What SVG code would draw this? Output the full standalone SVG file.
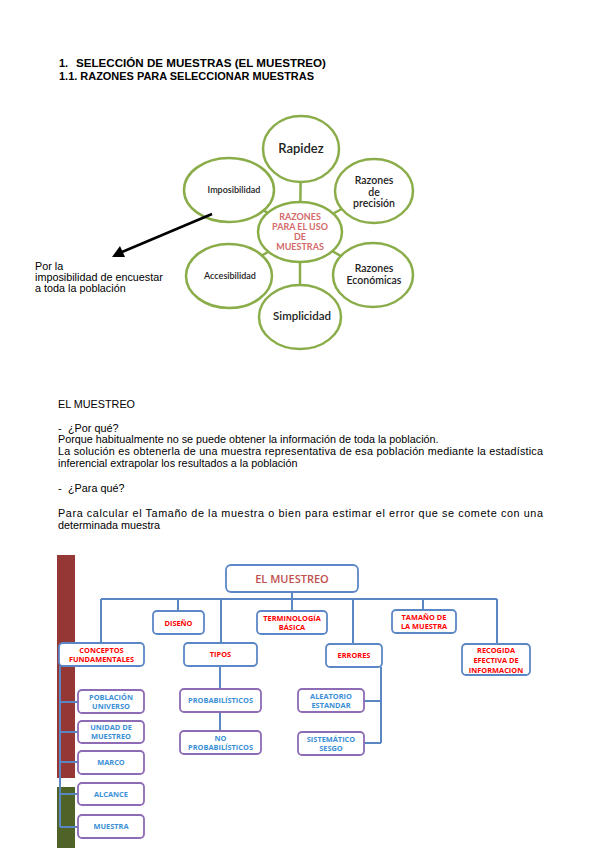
<svg xmlns="http://www.w3.org/2000/svg" width="599" height="848" viewBox="0 0 599 848">
<style>
.hdr{font-family:"Liberation Sans",Arial,sans-serif;font-size:11px;font-weight:bold;fill:#000}
.body{font-family:"Liberation Sans",Arial,sans-serif;font-size:10.8px;fill:#000}
.circ{fill:#fff;stroke:#8aad4a;stroke-width:2.5}
.rl{stroke:#8aad4a;stroke-width:2.5}
.ct{font-family:Lato,"Open Sans",sans-serif;fill:#222;text-anchor:middle;font-weight:600}
.cc{font-family:Lato,"Open Sans",sans-serif;fill:#d46a6a;text-anchor:middle;font-weight:bold;font-size:9px}
.bx{fill:#fff;stroke:#5b87c6;stroke-width:1.8}
.bc{fill:#fff;stroke:#8e6bb5;stroke-width:1.8}
.tr{font-family:"Open Sans","DejaVu Sans",sans-serif;font-weight:bold;font-size:7.4px;fill:#ff0000;text-anchor:middle}
.tb{font-family:"Open Sans","DejaVu Sans",sans-serif;font-weight:bold;font-size:7.4px;fill:#3a8fd6;text-anchor:middle}
.cn{stroke:#5a86c4;stroke-width:2;fill:none}
</style>
<rect width="599" height="848" fill="#fff"/>

<g id="header">
<text class="hdr" x="59" y="67">1.</text>
<text class="hdr" x="76" y="67" textLength="250" lengthAdjust="spacingAndGlyphs">SELECCIÓN DE MUESTRAS (EL MUESTREO)</text>
<text class="hdr" x="59" y="80" textLength="255" lengthAdjust="spacingAndGlyphs">1.1. RAZONES PARA SELECCIONAR MUESTRAS</text>
</g>

<g id="radial-connectors">
<line class="rl" x1="301" y1="149" x2="300" y2="232"/>
<line class="rl" x1="300" y1="232" x2="300" y2="317"/>
<line class="rl" x1="229" y1="190" x2="300" y2="232"/>
<line class="rl" x1="374" y1="191" x2="300" y2="232"/>
<line class="rl" x1="229" y1="276" x2="300" y2="232"/>
<line class="rl" x1="373" y1="275" x2="300" y2="232"/>
</g>

<g id="rapidez"><ellipse class="circ" cx="301" cy="149" rx="38" ry="33"/><text class="ct" x="301" y="153" font-size="13">Rapidez</text></g>
<g id="imposibilidad"><ellipse class="circ" cx="229" cy="190" rx="45" ry="32"/><text class="ct" x="234" y="193" font-size="9" font-weight="bold">Imposibilidad</text></g>
<g id="precision"><ellipse class="circ" cx="374" cy="191" rx="39" ry="32"/><text class="ct" x="374" y="184" font-size="10.5">Razones</text><text class="ct" x="374" y="195.5" font-size="10.5">de</text><text class="ct" x="374" y="207" font-size="10.5">precisión</text></g>
<g id="centro"><ellipse class="circ" cx="300" cy="232" rx="42" ry="30"/><text class="cc" x="300" y="220">RAZONES</text><text class="cc" x="300" y="230">PARA EL USO</text><text class="cc" x="300" y="240">DE</text><text class="cc" x="300" y="250">MUESTRAS</text></g>
<g id="accesibilidad"><ellipse class="circ" cx="229" cy="276" rx="43" ry="32"/><text class="ct" x="230" y="279" font-size="9" font-weight="bold">Accesibilidad</text></g>
<g id="economicas"><ellipse class="circ" cx="373" cy="275" rx="40" ry="32"/><text class="ct" x="374" y="272" font-size="10.5">Razones</text><text class="ct" x="374" y="284" font-size="10.5">Económicas</text></g>
<g id="simplicidad"><ellipse class="circ" cx="300" cy="317" rx="41" ry="32"/><text class="ct" x="302" y="320" font-size="11.5">Simplicidad</text></g>

<g id="arrow">
<line x1="212" y1="214" x2="122" y2="252" stroke="#000" stroke-width="2.5"/>
<polygon points="112,257 120,246 125,257" fill="#000"/>
</g>
<g id="nota">
<text class="body" x="35" y="270">Por la</text>
<text class="body" x="35" y="281">imposibilidad de encuestar</text>
<text class="body" x="35" y="292">a toda la población</text>
</g>

<g id="texto">
<text class="body" x="58" y="408">EL MUESTREO</text>
<text class="body" x="58" y="432">-</text><text class="body" x="68" y="432">¿Por qué?</text>
<text class="body" x="58" y="443">Porque habitualmente no se puede obtener la información de toda la población.</text>
<text class="body" x="58" y="455" textLength="485" lengthAdjust="spacing">La solución es obtenerla de una muestra representativa de esa población mediante la estadística</text>
<text class="body" x="58" y="467">inferencial extrapolar los resultados a la población</text>
<text class="body" x="58" y="492">-</text><text class="body" x="68" y="492">¿Para qué?</text>
<text class="body" x="58" y="517" textLength="485" lengthAdjust="spacing">Para calcular el Tamaño de la muestra o bien para estimar el error que se comete con una</text>
<text class="body" x="58" y="529">determinada muestra</text>
</g>

<g id="bars">
<rect x="57" y="555" width="18" height="223" fill="#953735"/>
<rect x="57" y="787" width="18" height="61" fill="#4f6228"/>
</g>

<g id="connectors">
<line class="cn" x1="101" y1="599" x2="497" y2="599"/>
<line class="cn" x1="292" y1="592" x2="292" y2="611"/>
<line class="cn" x1="178" y1="599" x2="178" y2="611"/>
<line class="cn" x1="423" y1="599" x2="423" y2="610"/>
<line class="cn" x1="101" y1="599" x2="101" y2="643"/>
<line class="cn" x1="221" y1="599" x2="221" y2="643"/>
<line class="cn" x1="353" y1="599" x2="353" y2="644"/>
<line class="cn" x1="497" y1="599" x2="497" y2="644"/>
<path class="cn" d="M60,666 V827 M60,702 H78 M60,732 H78 M60,762 H78 M60,794 H78 M60,827 H78"/>
<path class="cn" d="M220,666 V689 M220,712 V731"/>
<path class="cn" d="M381,667 V743 M364,701 H381 M364,743 H381"/>
</g>

<g id="el-muestreo"><rect class="bx" x="226" y="565" width="132" height="27" rx="5"/><text x="292" y="583" text-anchor="middle" font-family="Open Sans,DejaVu Sans,sans-serif" font-weight="600" font-size="11" fill="#c0504d">EL MUESTREO</text></g>
<g id="diseno"><rect class="bx" x="153" y="611" width="51" height="23" rx="4"/><text class="tr" x="178.5" y="625.5">DISEÑO</text></g>
<g id="terminologia"><rect class="bx" x="257" y="611" width="70" height="23" rx="4"/><text class="tr" x="292" y="620.5">TERMINOLOGÍA</text><text class="tr" x="292" y="629.5">BÁSICA</text></g>
<g id="tamano"><rect class="bx" x="392" y="610" width="64" height="23" rx="4"/><text class="tr" x="424" y="619.5">TAMAÑO  DE</text><text class="tr" x="424" y="628.5">LA MUESTRA</text></g>
<g id="conceptos"><rect class="bx" x="59" y="643" width="85" height="23" rx="4"/><text class="tr" x="101.5" y="652.5">CONCEPTOS</text><text class="tr" x="101.5" y="661.5">FUNDAMENTALES</text></g>
<g id="tipos"><rect class="bx" x="184" y="643" width="73" height="23" rx="4"/><text class="tr" x="220.5" y="657">TIPOS</text></g>
<g id="errores"><rect class="bx" x="326" y="644" width="56" height="23" rx="4"/><text class="tr" x="354" y="658">ERRORES</text></g>
<g id="recogida"><rect class="bx" x="462" y="644" width="68" height="31" rx="4"/><text class="tr" x="496" y="653">RECOGIDA</text><text class="tr" x="496" y="663">EFECTIVA  DE</text><text class="tr" x="496" y="673">INFORMACION</text></g>

<g id="poblacion"><rect class="bc" x="78" y="690" width="66" height="23" rx="4"/><text class="tb" x="111" y="699.5">POBLACIÓN</text><text class="tb" x="111" y="708.5">UNIVERSO</text></g>
<g id="unidad"><rect class="bc" x="78" y="721" width="66" height="22" rx="4"/><text class="tb" x="111" y="730">UNIDAD DE</text><text class="tb" x="111" y="739">MUESTREO</text></g>
<g id="marco"><rect class="bc" x="78" y="751" width="66" height="23" rx="4"/><text class="tb" x="111" y="765">MARCO</text></g>
<g id="alcance"><rect class="bc" x="78" y="783" width="66" height="22" rx="4"/><text class="tb" x="111" y="796.5">ALCANCE</text></g>
<g id="muestra"><rect class="bc" x="78" y="815" width="66" height="23" rx="4"/><text class="tb" x="111" y="829">MUESTRA</text></g>
<g id="probabilisticos"><rect class="bc" x="180" y="689" width="81" height="23" rx="4"/><text class="tb" x="220.5" y="703">PROBABILÍSTICOS</text></g>
<g id="no-probabilisticos"><rect class="bc" x="180" y="731" width="81" height="23" rx="4"/><text class="tb" x="220.5" y="740.5">NO</text><text class="tb" x="220.5" y="749.5">PROBABILÍSTICOS</text></g>
<g id="aleatorio"><rect class="bc" x="298" y="689" width="66" height="23" rx="4"/><text class="tb" x="331" y="698.5">ALEATORIO</text><text class="tb" x="331" y="707.5">ESTANDAR</text></g>
<g id="sistematico"><rect class="bc" x="298" y="732" width="66" height="23" rx="4"/><text class="tb" x="331" y="741.5">SISTEMÁTICO</text><text class="tb" x="331" y="750.5">SESGO</text></g>
</svg>
